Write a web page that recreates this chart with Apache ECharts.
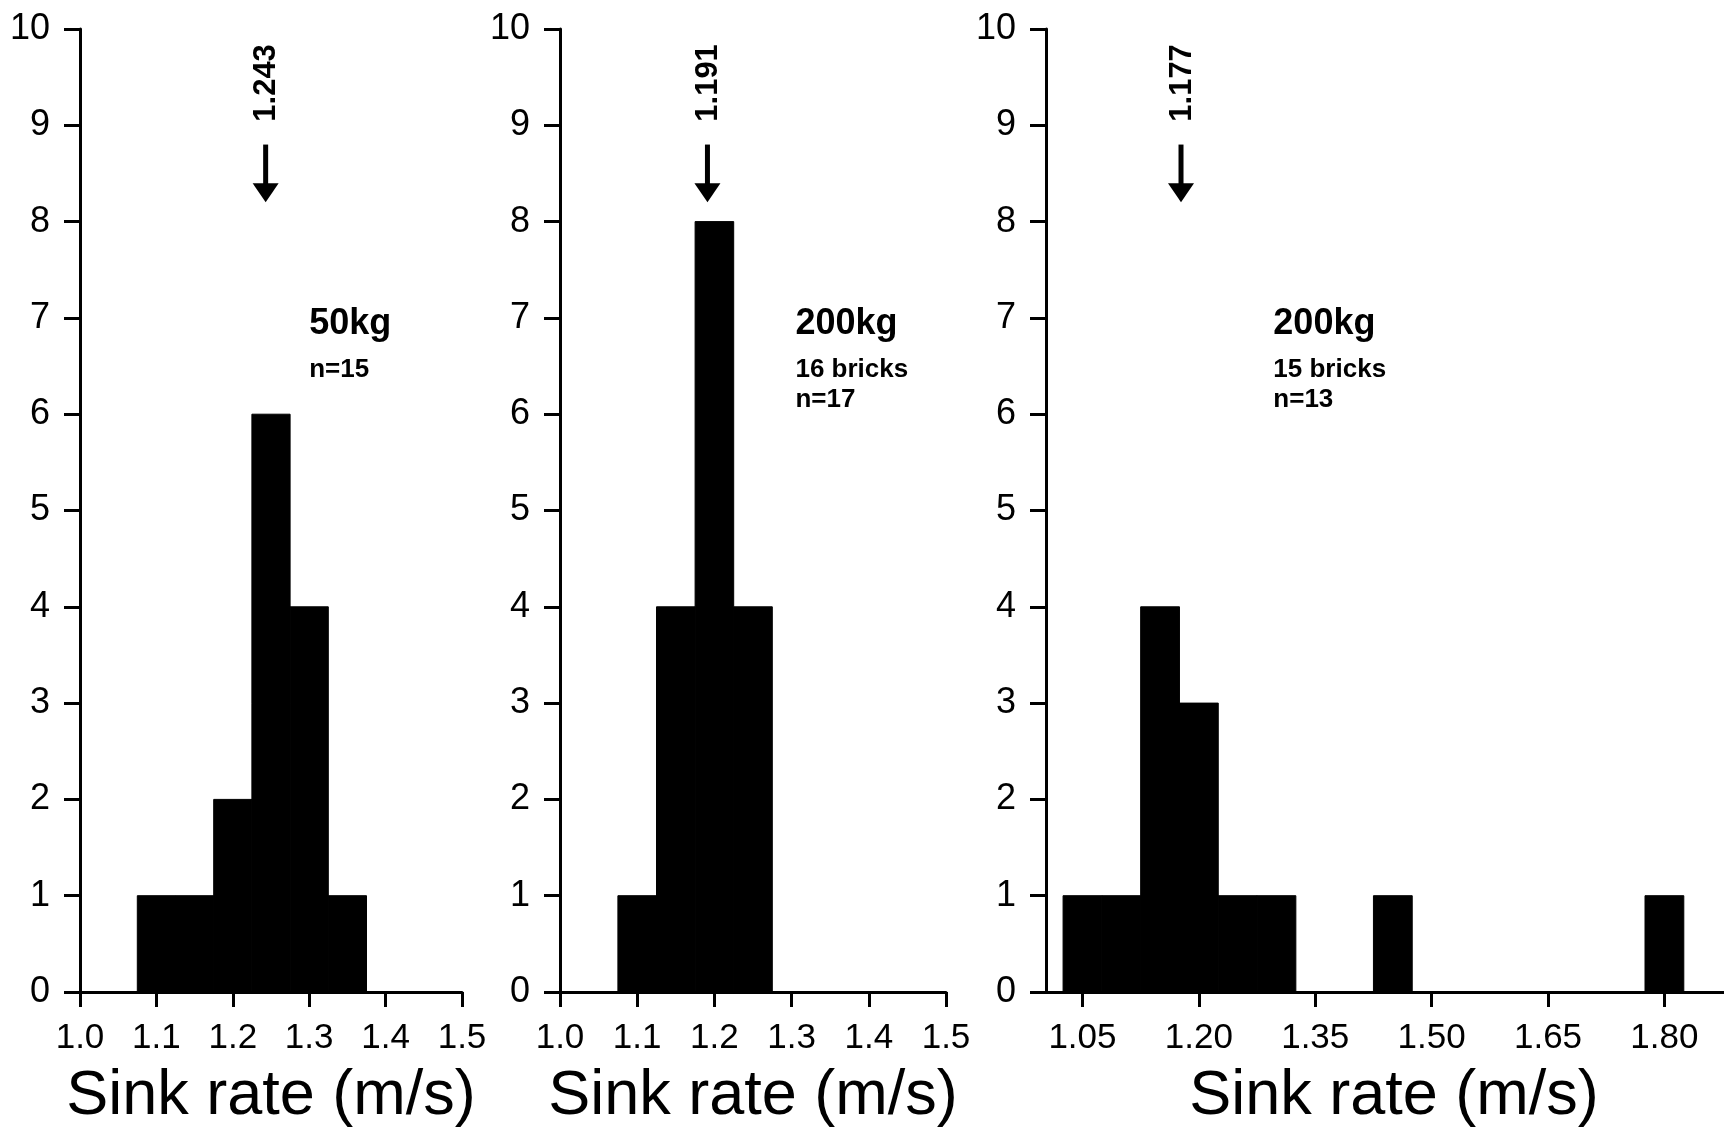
<!DOCTYPE html>
<html><head><meta charset="utf-8">
<script src="https://cdn.jsdelivr.net/npm/echarts@6/dist/echarts.min.js"></script>
<style>html,body{margin:0;padding:0;background:#fff}#c{width:1724px;height:1128px}</style>
</head><body><div id="c"></div>
<script>
// ---- Data ----
// Panel A: 50 kg
const binStartA = [1.075, 1.125, 1.175, 1.225, 1.275, 1.325];
const binEndA   = [1.125, 1.175, 1.225, 1.275, 1.325, 1.375];
const countsA   = [1, 1, 2, 6, 4, 1];
const meanA     = 1.243;
const textA     = ['50kg', 'n=15'];
// Panel B: 200 kg, 16 bricks
const binStartB = [1.075, 1.125, 1.175, 1.225];
const binEndB   = [1.125, 1.175, 1.225, 1.275];
const countsB   = [1, 4, 8, 4];
const meanB     = 1.191;
const textB     = ['200kg', '16 bricks', 'n=17'];
// Panel C: 200 kg, 15 bricks
const binStartC = [1.025, 1.075, 1.125, 1.175, 1.225, 1.275, 1.425, 1.775];
const binEndC   = [1.075, 1.125, 1.175, 1.225, 1.275, 1.325, 1.475, 1.825];
const countsC   = [1, 1, 4, 3, 1, 1, 1, 1];
const meanC     = 1.177;
const textC     = ['200kg', '15 bricks', 'n=13'];
// Axis ticks
const xTicksC   = [1.05, 1.20, 1.35, 1.50, 1.65, 1.80];
const xAxisName = 'Sink rate (m/s)';

// ---- Layout / style ----
const FONT = '"Liberation Sans", Arial, Helvetica, sans-serif';
const grids = [
  {left: 80,   right: 1262, top: 29, bottom: 136, outerBoundsMode: 'none', containLabel: false},
  {left: 560,  right: 778,  top: 29, bottom: 136, outerBoundsMode: 'none', containLabel: false},
  {left: 1046, right: -18,  top: 29, bottom: 136, outerBoundsMode: 'none', containLabel: false}
];
const arrowLayout = {top: 8.8, tip: 8.2, label: 9.44};
const annoLayout = [
  {x: 1.300, ys: [6.94, 6.46]},
  {x: 1.305, ys: [6.94, 6.46, 6.15]},
  {x: 1.296, ys: [6.94, 6.46, 6.15]}
];
const tickLabel = {color: '#000', fontSize: 35, fontFamily: FONT, margin: 29};

function xAxisCfg(i, min, max, extra) {
  return Object.assign({
    type: 'value', gridIndex: i, min: min, max: max,
    name: xAxisName, nameLocation: 'middle', nameGap: 73,
    nameTextStyle: {fontSize: 63, color: '#000', fontFamily: FONT},
    axisLine: {show: true, onZero: false, lineStyle: {color: '#000', width: 3}},
    axisTick: {show: true, inside: false, length: 15, lineStyle: {color: '#000', width: 3}},
    splitLine: {show: false},
    axisLabel: tickLabel
  }, extra);
}
function yAxisCfg(i) {
  return {
    type: 'value', gridIndex: i, min: 0, max: 10, interval: 1,
    axisLine: {show: true, lineStyle: {color: '#000', width: 3}},
    axisTick: {show: true, length: 16, lineStyle: {color: '#000', width: 3}},
    splitLine: {show: false},
    axisLabel: {color: '#000', fontSize: 36, fontFamily: FONT, margin: 30}
  };
}
function histSeries(i, starts, ends, counts) {
  return {
    type: 'custom', xAxisIndex: i, yAxisIndex: i, silent: true, z: 3,
    data: counts.map((c, k) => [starts[k], ends[k], c]),
    encode: {x: [0, 1], y: 2},
    renderItem: function (params, api) {
      const p0 = api.coord([api.value(0), 0]);
      const p1 = api.coord([api.value(1), api.value(2)]);
      return {type: 'rect',
        shape: {x: p0[0], y: p1[1], width: p1[0] - p0[0], height: p0[1] - p1[1]},
        style: {fill: '#000', stroke: '#000', lineWidth: 1}};
    }
  };
}
function arrowSeries(i, mean) {
  return {
    type: 'custom', xAxisIndex: i, yAxisIndex: i, silent: true, z: 4,
    data: [[mean]],
    encode: {x: 0},
    renderItem: function (params, api) {
      const m = api.value(0);
      const top = api.coord([m, arrowLayout.top]);
      const tip = api.coord([m, arrowLayout.tip]);
      const lab = api.coord([m, arrowLayout.label]);
      const hh = 19, hw = 26;
      return {type: 'group', children: [
        {type: 'rect', shape: {x: top[0] - 2.5, y: top[1], width: 5, height: tip[1] - hh - top[1] + 1}, style: {fill: '#000'}},
        {type: 'polygon', shape: {points: [[tip[0] - hw / 2, tip[1] - hh], [tip[0] + hw / 2, tip[1] - hh], [tip[0], tip[1]]]}, style: {fill: '#000'}},
        {type: 'text', x: lab[0] + 1, y: lab[1], rotation: Math.PI / 2,
          style: {text: m.toFixed(3), fill: '#000', font: 'bold 31px ' + FONT, align: 'center', verticalAlign: 'middle'}}
      ]};
    }
  };
}
function annoSeries(i, texts) {
  const L = annoLayout[i];
  return {
    type: 'custom', xAxisIndex: i, yAxisIndex: i, silent: true, z: 4,
    data: texts.map((t, k) => [L.x, L.ys[k], k]),
    encode: {x: 0, y: 1},
    renderItem: function (params, api) {
      const k = params.dataIndex;
      const p = api.coord([api.value(0), api.value(1)]);
      const size = k === 0 ? 36 : 26;
      return {type: 'text', x: p[0], y: p[1],
        style: {text: texts[k], fill: '#000', font: 'bold ' + size + 'px ' + FONT, align: 'left', verticalAlign: 'middle'}};
    }
  };
}

const chart = echarts.init(document.getElementById('c'), null, {renderer: 'canvas'});
chart.setOption({
  animation: false,
  backgroundColor: '#fff',
  grid: grids,
  xAxis: [
    xAxisCfg(0, 1.0, 1.5, {interval: 0.1, axisLabel: Object.assign({}, tickLabel, {formatter: v => v.toFixed(1)})}),
    xAxisCfg(1, 1.0, 1.5, {interval: 0.1, axisLabel: Object.assign({}, tickLabel, {formatter: v => v.toFixed(1)})}),
    xAxisCfg(2, 1.003, 1.9, {
      axisTick: {show: true, length: 15, customValues: xTicksC, lineStyle: {color: '#000', width: 3}},
      axisLabel: Object.assign({}, tickLabel, {customValues: xTicksC, formatter: v => v.toFixed(2)})
    })
  ],
  yAxis: [yAxisCfg(0), yAxisCfg(1), yAxisCfg(2)],
  series: [
    histSeries(0, binStartA, binEndA, countsA),
    histSeries(1, binStartB, binEndB, countsB),
    histSeries(2, binStartC, binEndC, countsC),
    arrowSeries(0, meanA), arrowSeries(1, meanB), arrowSeries(2, meanC),
    annoSeries(0, textA), annoSeries(1, textB), annoSeries(2, textC)
  ]
});
</script>
</body></html>
